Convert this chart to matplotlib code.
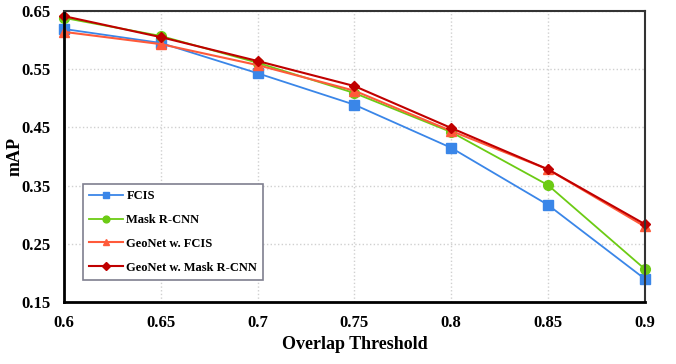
import matplotlib
matplotlib.use("Agg")
import matplotlib.pyplot as plt

thresholds = [0.6, 0.65, 0.7, 0.75, 0.8, 0.85, 0.9]
xtick_labels = ["0.6", "0.65", "0.7", "0.75", "0.8", "0.85", "0.9"]
yticks = [0.15, 0.25, 0.35, 0.45, 0.55, 0.65]

fcis = [0.619, 0.595, 0.543, 0.489, 0.415, 0.317, 0.190]
mask_rcnn = [0.638, 0.607, 0.561, 0.509, 0.442, 0.351, 0.207]
geonet_fcis = [0.614, 0.593, 0.557, 0.513, 0.444, 0.378, 0.280]
geonet_mask = [0.641, 0.605, 0.564, 0.521, 0.449, 0.378, 0.284]

plt.rcParams['font.family'] = ['Liberation Serif', 'DejaVu Serif']
plt.rcParams['font.weight'] = 'bold'

fig = plt.figure(figsize=(6.76, 3.64), dpi=100)
ax = fig.add_axes([0.0947, 0.170, 0.859, 0.800])

ax.plot(thresholds, fcis, color="#3a86e8", marker="s", markersize=6.5, lw=1.3,
        label="FCIS", clip_on=False)
ax.plot(thresholds, mask_rcnn, color="#6ccb14", marker="o", markersize=7, lw=1.3,
        label="Mask R-CNN", clip_on=False)
ax.plot(thresholds, geonet_fcis, color="#ff5a3a", marker="^", markersize=7, lw=1.5,
        label="GeoNet w. FCIS", clip_on=False)
ax.plot(thresholds, geonet_mask, color="#c00000", marker="D", markersize=5.5, lw=1.5,
        label="GeoNet w. Mask R-CNN", clip_on=False)

ax.set_xlim(0.6, 0.9)
ax.set_ylim(0.15, 0.65)
ax.set_xticks(thresholds)
ax.set_xticklabels(xtick_labels)
ax.set_yticks(yticks)
ax.tick_params(axis='y', labelsize=12, length=0, pad=10)
ax.tick_params(axis='x', labelsize=12, length=0, pad=9)
for lab in ax.get_xticklabels() + ax.get_yticklabels():
    lab.set_fontweight('bold')

ax.grid(True, color="#d0d0d0", linestyle=":", linewidth=1.0)
ax.set_axisbelow(True)

for side in ["left", "bottom"]:
    ax.spines[side].set_linewidth(2.0)
    ax.spines[side].set_color("black")
for side in ["top", "right"]:
    ax.spines[side].set_linewidth(1.5)
    ax.spines[side].set_color("#333333")

ax.set_xlabel("Overlap Threshold", fontsize=13, fontweight='bold', labelpad=4)
ax.set_ylabel("mAP", fontsize=13, fontweight='bold')
ax.yaxis.set_label_coords(-0.070, 0.5)

leg = ax.legend(loc="lower left", bbox_to_anchor=(0.033, 0.076), fontsize=9,
                handlelength=2.7, labelspacing=0.95, borderpad=0.5, borderaxespad=0,
                fancybox=False, framealpha=1, markerscale=0.7, handletextpad=0.25)
leg.get_frame().set_edgecolor("#7f7f8f")
leg.get_frame().set_linewidth(1.2)
for t in leg.get_texts():
    t.set_fontweight('bold')

plt.savefig("out.png", dpi=100)
